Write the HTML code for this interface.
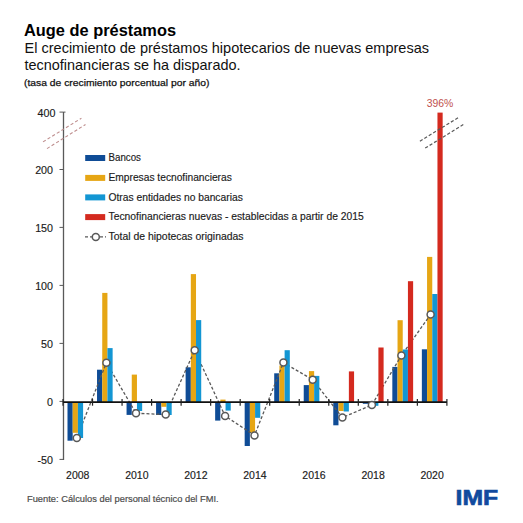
<!DOCTYPE html>
<html><head><meta charset="utf-8"><style>
html,body{margin:0;padding:0;background:#fff;width:523px;height:523px;overflow:hidden}
svg{display:block;font-family:"Liberation Sans",sans-serif}
</style></head><body>
<svg width="523" height="523" viewBox="0 0 523 523">
<rect width="523" height="523" fill="#fff"/>
<text x="24" y="35.8" font-weight="bold" font-size="16.2" fill="#000" textLength="152" lengthAdjust="spacingAndGlyphs">Auge de préstamos</text>
<text x="24.5" y="53.4" font-size="14.1" fill="#111" textLength="404.5" lengthAdjust="spacingAndGlyphs">El crecimiento de préstamos hipotecarios de nuevas empresas</text>
<text x="24.5" y="69.8" font-size="14.1" fill="#111" textLength="216" lengthAdjust="spacingAndGlyphs">tecnofinancieras se ha disparado.</text>
<text x="24" y="85.8" font-size="9.8" fill="#111" stroke="#111" stroke-width="0.25" textLength="185.4" lengthAdjust="spacingAndGlyphs">(tasa de crecimiento porcentual por año)</text>
<line x1="63.5" y1="112" x2="63.5" y2="460" stroke="#595959" stroke-width="1.3"/>
<line x1="59.5" y1="112.1" x2="63.5" y2="112.1" stroke="#595959" stroke-width="1"/>
<line x1="59.5" y1="169.5" x2="63.5" y2="169.5" stroke="#595959" stroke-width="1"/>
<line x1="59.5" y1="227.4" x2="63.5" y2="227.4" stroke="#595959" stroke-width="1"/>
<line x1="59.5" y1="285.4" x2="63.5" y2="285.4" stroke="#595959" stroke-width="1"/>
<line x1="59.5" y1="343.4" x2="63.5" y2="343.4" stroke="#595959" stroke-width="1"/>
<line x1="59.5" y1="401.4" x2="63.5" y2="401.4" stroke="#595959" stroke-width="1"/>
<line x1="59.5" y1="459.4" x2="63.5" y2="459.4" stroke="#595959" stroke-width="1"/>
<line x1="63.5" y1="112.1" x2="65.5" y2="112.1" stroke="#595959" stroke-width="1"/>
<text x="55.4" y="117.4" font-size="10.7" fill="#1a1a1a" stroke="#1a1a1a" stroke-width="0.15" text-anchor="end">400</text>
<text x="53" y="173.7" font-size="10.7" fill="#1a1a1a" stroke="#1a1a1a" stroke-width="0.15" text-anchor="end">200</text>
<text x="53" y="231.6" font-size="10.7" fill="#1a1a1a" stroke="#1a1a1a" stroke-width="0.15" text-anchor="end">150</text>
<text x="53" y="289.6" font-size="10.7" fill="#1a1a1a" stroke="#1a1a1a" stroke-width="0.15" text-anchor="end">100</text>
<text x="53" y="347.6" font-size="10.7" fill="#1a1a1a" stroke="#1a1a1a" stroke-width="0.15" text-anchor="end">50</text>
<text x="53" y="405.6" font-size="10.7" fill="#1a1a1a" stroke="#1a1a1a" stroke-width="0.15" text-anchor="end">0</text>
<text x="53" y="463.6" font-size="10.7" fill="#1a1a1a" stroke="#1a1a1a" stroke-width="0.15" text-anchor="end">-50</text>
<rect x="67.50" y="402.20" width="5.2" height="38.50" fill="#0f4c96"/>
<rect x="72.70" y="402.20" width="5.2" height="30.60" fill="#e6a614"/>
<rect x="97.03" y="369.70" width="5.2" height="32.50" fill="#0f4c96"/>
<rect x="102.23" y="292.90" width="5.2" height="109.30" fill="#e6a614"/>
<rect x="126.56" y="402.20" width="5.2" height="12.70" fill="#0f4c96"/>
<rect x="131.76" y="374.60" width="5.2" height="27.60" fill="#e6a614"/>
<rect x="156.09" y="402.20" width="5.2" height="12.80" fill="#0f4c96"/>
<rect x="161.29" y="402.20" width="5.2" height="4.60" fill="#e6a614"/>
<rect x="185.62" y="367.30" width="5.2" height="34.90" fill="#0f4c96"/>
<rect x="190.82" y="274.10" width="5.2" height="128.10" fill="#e6a614"/>
<rect x="215.15" y="402.20" width="5.2" height="18.40" fill="#0f4c96"/>
<rect x="220.35" y="399.60" width="5.2" height="2.60" fill="#e6a614"/>
<rect x="244.68" y="402.20" width="5.2" height="43.80" fill="#0f4c96"/>
<rect x="249.88" y="402.20" width="5.2" height="30.60" fill="#e6a614"/>
<rect x="274.21" y="373.30" width="5.2" height="28.90" fill="#0f4c96"/>
<rect x="279.41" y="365.50" width="5.2" height="36.70" fill="#e6a614"/>
<rect x="303.74" y="385.10" width="5.2" height="17.10" fill="#0f4c96"/>
<rect x="308.94" y="371.10" width="5.2" height="31.10" fill="#e6a614"/>
<rect x="333.27" y="402.20" width="5.2" height="23.10" fill="#0f4c96"/>
<rect x="338.47" y="402.20" width="5.2" height="8.80" fill="#e6a614"/>
<rect x="362.80" y="402.20" width="5.2" height="1.60" fill="#0f4c96"/>
<rect x="392.33" y="366.90" width="5.2" height="35.30" fill="#0f4c96"/>
<rect x="397.53" y="320.20" width="5.2" height="82.00" fill="#e6a614"/>
<rect x="421.86" y="349.30" width="5.2" height="52.90" fill="#0f4c96"/>
<rect x="427.06" y="256.90" width="5.2" height="145.30" fill="#e6a614"/>
<text x="77.76" y="478.9" font-size="10.5" fill="#1a1a1a" stroke="#1a1a1a" stroke-width="0.15" text-anchor="middle">2008</text>
<text x="136.82" y="478.9" font-size="10.5" fill="#1a1a1a" stroke="#1a1a1a" stroke-width="0.15" text-anchor="middle">2010</text>
<text x="195.88" y="478.9" font-size="10.5" fill="#1a1a1a" stroke="#1a1a1a" stroke-width="0.15" text-anchor="middle">2012</text>
<text x="254.94" y="478.9" font-size="10.5" fill="#1a1a1a" stroke="#1a1a1a" stroke-width="0.15" text-anchor="middle">2014</text>
<text x="314.00" y="478.9" font-size="10.5" fill="#1a1a1a" stroke="#1a1a1a" stroke-width="0.15" text-anchor="middle">2016</text>
<text x="373.06" y="478.9" font-size="10.5" fill="#1a1a1a" stroke="#1a1a1a" stroke-width="0.15" text-anchor="middle">2018</text>
<text x="432.12" y="478.9" font-size="10.5" fill="#1a1a1a" stroke="#1a1a1a" stroke-width="0.15" text-anchor="middle">2020</text>
<polyline points="76.8,438 106.4,362.7 136,413.3 165.7,414.5 194.7,350.3 225.1,416 254.5,435.4 283.4,362.6 312.7,379.7 342.4,417.6 371.9,404.9 401.4,355.5 430.6,314.5" fill="none" stroke="#595959" stroke-width="1.3" stroke-dasharray="3,2"/>
<rect x="77.90" y="402.20" width="5.2" height="35.80" fill="#1396d3"/>
<rect x="107.43" y="348.10" width="5.2" height="54.10" fill="#1396d3"/>
<rect x="136.96" y="402.20" width="5.2" height="8.80" fill="#1396d3"/>
<rect x="166.49" y="402.20" width="5.2" height="12.80" fill="#1396d3"/>
<rect x="196.02" y="320.10" width="5.2" height="82.10" fill="#1396d3"/>
<rect x="225.55" y="402.20" width="5.2" height="8.40" fill="#1396d3"/>
<rect x="255.08" y="402.20" width="5.2" height="15.60" fill="#1396d3"/>
<rect x="284.61" y="350.20" width="5.2" height="52.00" fill="#1396d3"/>
<rect x="314.14" y="375.90" width="5.2" height="26.30" fill="#1396d3"/>
<rect x="343.67" y="402.20" width="5.2" height="9.30" fill="#1396d3"/>
<rect x="348.87" y="371.40" width="5.2" height="30.80" fill="#d42a1f"/>
<rect x="373.20" y="402.20" width="5.2" height="3.60" fill="#1396d3"/>
<rect x="378.40" y="347.50" width="5.2" height="54.70" fill="#d42a1f"/>
<rect x="402.73" y="349.50" width="5.2" height="52.70" fill="#1396d3"/>
<rect x="407.93" y="281.20" width="5.2" height="121.00" fill="#d42a1f"/>
<rect x="432.26" y="294.00" width="5.2" height="108.20" fill="#1396d3"/>
<rect x="437.46" y="112.60" width="5.2" height="289.60" fill="#d42a1f"/>
<line x1="63" y1="402.2" x2="447" y2="402.2" stroke="#111" stroke-width="1.8"/>
<line x1="63.00" y1="399" x2="63.00" y2="405.7" stroke="#222" stroke-width="1.2"/>
<line x1="92.53" y1="399" x2="92.53" y2="405.7" stroke="#222" stroke-width="1.2"/>
<line x1="122.06" y1="399" x2="122.06" y2="405.7" stroke="#222" stroke-width="1.2"/>
<line x1="151.59" y1="399" x2="151.59" y2="405.7" stroke="#222" stroke-width="1.2"/>
<line x1="181.12" y1="399" x2="181.12" y2="405.7" stroke="#222" stroke-width="1.2"/>
<line x1="210.65" y1="399" x2="210.65" y2="405.7" stroke="#222" stroke-width="1.2"/>
<line x1="240.18" y1="399" x2="240.18" y2="405.7" stroke="#222" stroke-width="1.2"/>
<line x1="269.71" y1="399" x2="269.71" y2="405.7" stroke="#222" stroke-width="1.2"/>
<line x1="299.24" y1="399" x2="299.24" y2="405.7" stroke="#222" stroke-width="1.2"/>
<line x1="328.77" y1="399" x2="328.77" y2="405.7" stroke="#222" stroke-width="1.2"/>
<line x1="358.30" y1="399" x2="358.30" y2="405.7" stroke="#222" stroke-width="1.2"/>
<line x1="387.83" y1="399" x2="387.83" y2="405.7" stroke="#222" stroke-width="1.2"/>
<line x1="417.36" y1="399" x2="417.36" y2="405.7" stroke="#222" stroke-width="1.2"/>
<line x1="446.89" y1="399" x2="446.89" y2="405.7" stroke="#222" stroke-width="1.2"/>
<circle cx="76.8" cy="438" r="3.5" fill="#fff" stroke="#595959" stroke-width="1.5"/>
<circle cx="106.4" cy="362.7" r="3.5" fill="#fff" stroke="#595959" stroke-width="1.5"/>
<circle cx="136" cy="413.3" r="3.5" fill="#fff" stroke="#595959" stroke-width="1.5"/>
<circle cx="165.7" cy="414.5" r="3.5" fill="#fff" stroke="#595959" stroke-width="1.5"/>
<circle cx="194.7" cy="350.3" r="3.5" fill="#fff" stroke="#595959" stroke-width="1.5"/>
<circle cx="225.1" cy="416" r="3.5" fill="#fff" stroke="#595959" stroke-width="1.5"/>
<circle cx="254.5" cy="435.4" r="3.5" fill="#fff" stroke="#595959" stroke-width="1.5"/>
<circle cx="283.4" cy="362.6" r="3.5" fill="#fff" stroke="#595959" stroke-width="1.5"/>
<circle cx="312.7" cy="379.7" r="3.5" fill="#fff" stroke="#595959" stroke-width="1.5"/>
<circle cx="342.4" cy="417.6" r="3.5" fill="#fff" stroke="#595959" stroke-width="1.5"/>
<circle cx="371.9" cy="404.9" r="3.5" fill="#fff" stroke="#595959" stroke-width="1.5"/>
<circle cx="401.4" cy="355.5" r="3.5" fill="#fff" stroke="#595959" stroke-width="1.5"/>
<circle cx="430.6" cy="314.5" r="3.5" fill="#fff" stroke="#595959" stroke-width="1.5"/>
<line x1="43" y1="141.9" x2="81.4" y2="118.2" stroke="#bf8f8f" stroke-width="1.1" stroke-dasharray="3.2,2.2"/>
<line x1="47" y1="148.6" x2="85.5" y2="124.5" stroke="#bf8f8f" stroke-width="1.1" stroke-dasharray="3.2,2.2"/>
<line x1="419.9" y1="141.2" x2="458.9" y2="117.2" stroke="#595959" stroke-width="1.2" stroke-dasharray="3.2,2"/>
<line x1="425.2" y1="148.1" x2="464.2" y2="124" stroke="#595959" stroke-width="1.2" stroke-dasharray="3.2,2"/>
<text x="440" y="107.2" font-size="10.4" fill="#c0504d" text-anchor="middle">396%</text>
<rect x="85.2" y="155.0" width="20" height="6" fill="#0f4c96"/>
<rect x="85.2" y="174.9" width="20" height="6" fill="#e6a614"/>
<rect x="85.2" y="194.4" width="20" height="6" fill="#1396d3"/>
<rect x="85.2" y="214.1" width="20" height="6" fill="#d42a1f"/>
<text x="108.5" y="161.1" font-size="10.2" fill="#1a1a1a" stroke="#1a1a1a" stroke-width="0.15" textLength="32.4" lengthAdjust="spacingAndGlyphs">Bancos</text>
<text x="108.5" y="181" font-size="10.2" fill="#1a1a1a" stroke="#1a1a1a" stroke-width="0.15" textLength="123.3" lengthAdjust="spacingAndGlyphs">Empresas tecnofinancieras</text>
<text x="108.5" y="200.5" font-size="10.2" fill="#1a1a1a" stroke="#1a1a1a" stroke-width="0.15" textLength="134.3" lengthAdjust="spacingAndGlyphs">Otras entidades no bancarias</text>
<text x="108.5" y="220.1" font-size="10.2" fill="#1a1a1a" stroke="#1a1a1a" stroke-width="0.15" textLength="255.2" lengthAdjust="spacingAndGlyphs">Tecnofinancieras nuevas - establecidas a partir de 2015</text>
<line x1="85" y1="236.9" x2="106" y2="236.9" stroke="#595959" stroke-width="1.3" stroke-dasharray="3,2"/>
<circle cx="95.8" cy="236.9" r="3.5" fill="#fff" stroke="#595959" stroke-width="1.5"/>
<text x="108.5" y="240" font-size="10.2" fill="#1a1a1a" stroke="#1a1a1a" stroke-width="0.15" textLength="135.1" lengthAdjust="spacingAndGlyphs">Total de hipotecas originadas</text>
<text x="27" y="501.6" font-size="9.3" fill="#4d4d4d" stroke="#4d4d4d" stroke-width="0.2" textLength="191.6" lengthAdjust="spacingAndGlyphs">Fuente: Cálculos del personal técnico del FMI.</text>
<text x="455.6" y="504.8" font-size="22.8" font-weight="bold" fill="#114a9e" stroke="#114a9e" stroke-width="0.7" textLength="42.6" lengthAdjust="spacingAndGlyphs">IMF</text>
</svg>
</body></html>
